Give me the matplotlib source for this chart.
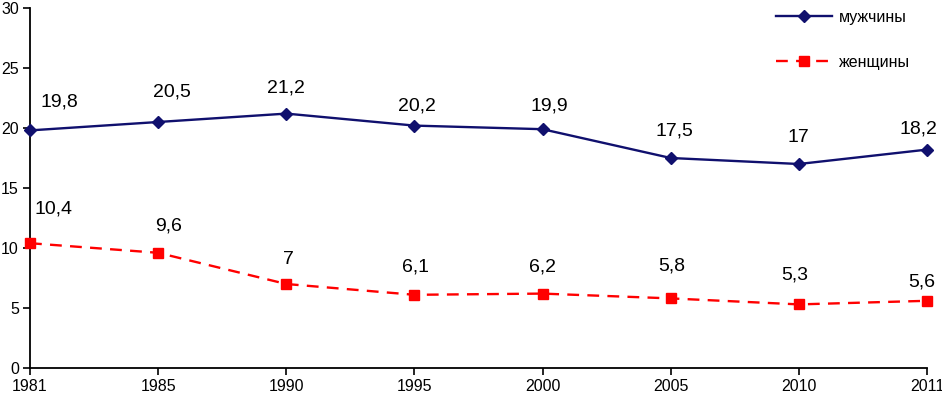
#!/usr/bin/env python3

import matplotlib
matplotlib.use("Agg")
import matplotlib.pyplot as plt

years = ["1981", "1985", "1990", "1995", "2000", "2005", "2010", "2011"]
men = [19.8, 20.5, 21.2, 20.2, 19.9, 17.5, 17.0, 18.2]
women = [10.4, 9.6, 7.0, 6.1, 6.2, 5.8, 5.3, 5.6]
men_labels = ["19,8", "20,5", "21,2", "20,2", "19,9", "17,5", "17", "18,2"]
women_labels = ["10,4", "9,6", "7", "6,1", "6,2", "5,8", "5,3", "5,6"]

# label offsets in pixels (dx, dy), as placed by hand in the original
men_offsets = [(29, 28), (14, 30), (0, 26), (3, 20), (7, 23), (4, 27), (0, 27), (-9, 21)]
women_offsets = [(24, 34), (10, 27), (2, 24), (1, 28), (0, 27), (1, 32), (-4, 29), (-5, 19)]

plt.rcParams['font.family'] = ['Liberation Sans', 'DejaVu Sans']

fig = plt.figure(figsize=(9.42, 3.98), dpi=100)
ax = fig.add_axes([30 / 942, 1 - 368 / 398, 897 / 942, 360 / 398])

x = list(range(len(years)))
ax.plot(x, men, color="#10106e", lw=1.7, marker="D", markersize=6.5,
        label="мужчины", clip_on=False, zorder=3)
ax.plot(x, women, color="#ff0000", lw=1.7, marker="s", markersize=7,
        dashes=(5, 3.5), label="женщины", clip_on=False, zorder=3)

for xi, v, t, off in zip(x, men, men_labels, men_offsets):
    ax.annotate(t, (xi, v), xytext=off, textcoords="offset pixels",
                ha="center", va="center", fontsize=14)
for xi, v, t, off in zip(x, women, women_labels, women_offsets):
    ax.annotate(t, (xi, v), xytext=off, textcoords="offset pixels",
                ha="center", va="center", fontsize=14)

ax.set_xlim(0, len(years) - 1)
ax.set_ylim(0, 30)
ax.set_xticks(x)
ax.set_xticklabels(years)
ax.set_yticks(range(0, 31, 5))
ax.tick_params(labelsize=11.5, width=1.2, length=5, direction="out", pad=3)
for side in ["top", "right"]:
    ax.spines[side].set_visible(False)
for side in ["left", "bottom"]:
    ax.spines[side].set_linewidth(1.3)

ax.legend(loc="upper left", bbox_to_anchor=(776 / 942, 1 - 10 / 398),
          bbox_transform=fig.transFigure, frameon=False, fontsize=11.5,
          handlelength=3.5, handletextpad=0.45, labelspacing=1.85,
          borderpad=0, borderaxespad=0)

fig.savefig("out.png", dpi=100)
